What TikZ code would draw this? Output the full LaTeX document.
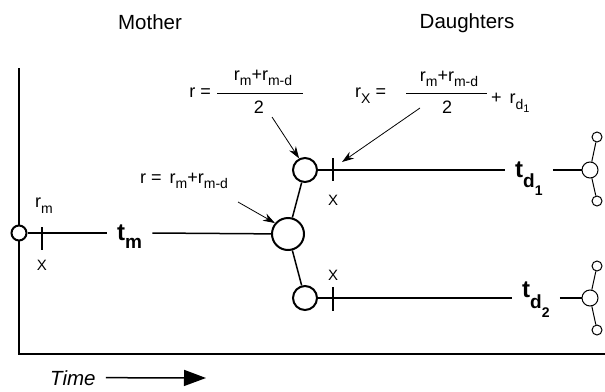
\documentclass[tikz,border=0pt]{standalone}
\usepackage{fontspec}
\setmainfont{Liberation Sans}
\usetikzlibrary{arrows.meta}
\newcommand{\fm}{\fontsize{18}{20}\selectfont}
\newcommand{\fsb}{\fontsize{14}{14}\selectfont}
\newcommand{\lsub}[2][5pt]{\raisebox{-#1}{\fsb #2}}
\begin{document}
\begin{tikzpicture}[x=1pt,y=-1pt,
  lbl/.style={inner sep=0pt, font=\fontsize{20.5}{24}\selectfont},
  frm/.style={inner sep=0pt, font=\fm},
  xl/.style={inner sep=0pt, font=\fontsize{15}{15}\selectfont, anchor=base},
  circ/.style={circle, draw, line width=2pt, fill=white, inner sep=0pt},
  smallc/.style={circle, draw, line width=1pt, fill=white, inner sep=0pt},
  tlab/.style={inner xsep=10pt, inner ysep=0pt, anchor=base west, font=\fontsize{24}{24}\selectfont\bfseries},
  conn/.style={line width=1.5pt},
  thinconn/.style={line width=1pt},
  tick/.style={line width=2pt},
  arr/.style={line width=0.8pt, -{Stealth[length=12pt,width=8pt]}}
]
\useasboundingbox (0,0) rectangle (605,391);

% axes
\coordinate (axtop) at (19,68);
\coordinate (axorig) at (19,354);
\coordinate (axend) at (605,354);
\draw[line width=2pt] (axtop) -- (axorig) -- (axend);

% time arrow
\node[inner sep=0pt, anchor=base west, font=\fontsize{20.5}{24}\selectfont\itshape] (time) at (50,385) {Time};
\coordinate (tend) at (206,378);
\draw[line width=1.5pt, -{Triangle[length=22pt,width=16pt]}] ([xshift=10pt]time.east) -- (tend);

% headings
\node[lbl, anchor=base] (mother) at (150,29) {Mother};
\node[lbl, anchor=base] (daughters) at (467,28) {Daughters};

% circles
\node[circ, minimum size=15pt] (m) at (19,233) {};
\node[circ, minimum size=32pt] (big) at (288,234) {};
\node[circ, minimum size=24pt] (d1) at (305,170) {};
\node[circ, minimum size=24pt] (d2) at (305,298) {};

% time labels
\node[tlab] (tm) at (107,240) {t\raisebox{-8pt}{\fontsize{19}{19}\selectfont m}\hspace{10pt}};
\node[tlab] (td1) at (505,177) {t\raisebox{-10pt}{\fontsize{19}{19}\selectfont d\raisebox{-8pt}{\fontsize{14}{14}\selectfont 1}}\hspace{6pt}};
\node[tlab] (td2) at (512,297) {t\raisebox{-11pt}{\fontsize{19}{19}\selectfont d\raisebox{-9pt}{\fontsize{14}{14}\selectfont 2}}\hspace{3pt}};

% lines
\draw[conn] (m) -- (tm.west |- m);
\draw[conn] (tm.east |- m) -- (big);
\draw[conn] (big) -- (d1);
\draw[conn] (big) -- (d2);
\draw[conn] (d1) -- (td1.west |- d1);
\draw[conn] (d2) -- (td2.west |- d2);

% right-side small circles
\node[smallc, minimum size=16pt] (md1) at (590,170) {};
\node[smallc, minimum size=10pt] (ta1) at (597,137) {};
\node[smallc, minimum size=10pt] (tb1) at (597,201) {};
\node[smallc, minimum size=16pt] (md2) at (590,298) {};
\node[smallc, minimum size=10pt] (ta2) at (597,266) {};
\node[smallc, minimum size=10pt] (tb2) at (597,330) {};
\draw[conn] (td1.east |- d1) -- (md1);
\draw[conn] (td2.east |- d2) -- (md2);
\draw[thinconn] (md1) -- (ta1);
\draw[thinconn] (md1) -- (tb1);
\draw[thinconn] (md2) -- (ta2);
\draw[thinconn] (md2) -- (tb2);

% ticks
\coordinate (k0a) at (42,227); \coordinate (k0b) at (42,250);
\coordinate (k1a) at (333,158); \coordinate (k1b) at (333,181);
\coordinate (k2a) at (333,287); \coordinate (k2b) at (333,311);
\draw[tick] (k0a) -- (k0b);
\draw[tick] (k1a) -- (k1b);
\draw[tick] (k2a) -- (k2b);

% small labels
\node[frm, anchor=base west] (rm) at (35,207) {r\lsub[6pt]{m}};
\node[xl] (x0) at (42,270) {X};
\node[xl] (x1) at (333,205) {X};
\node[xl] (x2) at (333,280) {X};

% formula 1
\node[frm, anchor=base east] (f1a) at (211,97) {r =};
\coordinate (b1l) at (217,93); \coordinate (b1r) at (303,93);
\draw[line width=1pt] (b1l) -- (b1r);
\node[frm, anchor=base] (f1n) at (263,80) {r\lsub{m}+r\lsub{m-d}};
\node[frm, anchor=base] (f1d) at (259,113) {2};

% formula 2
\node[frm, anchor=base west] (f2a) at (355,97) {r\lsub[6pt]{X} =};
\coordinate (b2l) at (406,93); \coordinate (b2r) at (487,93);
\draw[line width=1pt] (b2l) -- (b2r);
\node[frm, anchor=base] (f2n) at (449,81) {r\lsub{m}+r\lsub{m-d}};
\node[frm, anchor=base] (f2d) at (447,113) {2};
\node[frm, anchor=base west] (f2p) at (491,103) {+ \,r\lsub[6pt]{d\raisebox{-3pt}{\fontsize{11}{11}\selectfont 1}}};

% formula 3
\node[frm, anchor=base west] (f3) at (140,183) {r = \,r\lsub{m}+r\lsub{m-d}};

% arrows
\coordinate (a1s) at (272,117);
\coordinate (a2s) at (420,108);
\coordinate (a2e) at (342,162);
\coordinate (a3s) at (238,202);
\draw[arr] (a1s) -- (d1.117);
\draw[arr] (a2s) -- (a2e);
\draw[arr] (a3s) -- (big.140);
\end{tikzpicture}
\end{document}
